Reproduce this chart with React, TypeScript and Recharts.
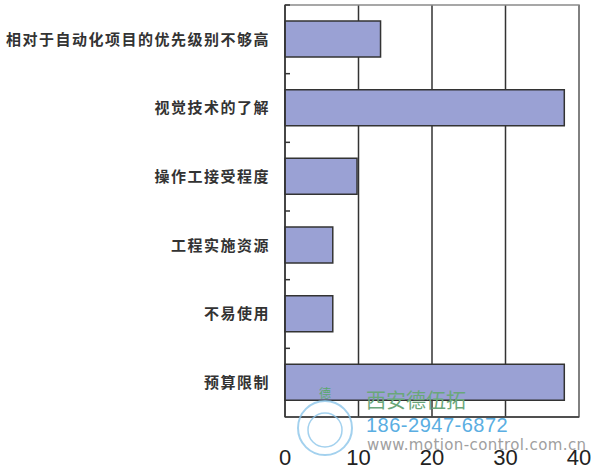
import React from 'react';
import {
  Bar,
  BarChart,
  CartesianGrid,
  ReferenceArea,
  XAxis,
  YAxis,
} from 'recharts';

const categories = [
  '相对于自动化项目的优先级别不够高',
  '视觉技术的了解',
  '操作工接受程度',
  '工程实施资源',
  '不易使用',
  '预算限制',
];
const values = [13, 38, 9.8, 6.5, 6.5, 38];
const xTicks = [0, 10, 20, 30, 40];

const data = categories.map((name, i) => ({ name, value: values[i] }));

const INK = '#333';
const BAR_FILL = '#9aa1d4';

/* 类目标签 + 类目分界处的小刻度 */
function CategoryTick({ x, y, payload }: any) {
  const top = y - (payload?.offset ?? 0);
  return (
    <g>
      <line x1={x} x2={x + 5} y1={top} y2={top} stroke={INK} strokeWidth={1.5} />
      <text
        x={x - 15}
        y={y}
        dy="0.35em"
        textAnchor="end"
        fill="#333"
        fontSize={15}
        fontWeight={700}
        letterSpacing={1.5}
        fontFamily='"Noto Sans CJK SC", sans-serif'
      >
        {payload.value}
      </text>
    </g>
  );
}

function Watermark() {
  return (
    <div style={{ position: 'absolute', left: 0, top: 0, width: 600, height: 474, pointerEvents: 'none' }}>
      <svg width={600} height={474} style={{ position: 'absolute', left: 0, top: 0 }}>
        <circle cx={325} cy={428} r={27} fill="none" stroke="#8cc6ea" strokeWidth={2} opacity={0.8} />
        <circle cx={325} cy={430} r={17} fill="none" stroke="#8cc6ea" strokeWidth={1.5} opacity={0.8} />
        <text x={325} y={398} textAnchor="middle" fontSize={12} fill="#5aa86e" fontFamily='"Noto Sans CJK SC", sans-serif'>德</text>
      </svg>
      <div style={{ position: 'absolute', left: 366, top: 387, fontSize: 20, color: '#6aa77a', fontFamily: '"Noto Sans CJK SC", sans-serif', lineHeight: '26px', letterSpacing: 0 }}>
        西安德伍拓
      </div>
      <div style={{ position: 'absolute', left: 366, top: 412, fontSize: 20, color: '#5aaee2', fontFamily: '"Liberation Sans", Arial, sans-serif', lineHeight: '26px', letterSpacing: 0.5 }}>
        186-2947-6872
      </div>
      <div style={{ position: 'absolute', left: 367, top: 436, fontSize: 15, color: '#a0a0a0', fontFamily: '"DejaVu Sans", sans-serif', lineHeight: '18px', letterSpacing: 0.4 }}>
        www.motion-control.com.cn
      </div>
    </div>
  );
}

export default function App() {
  return (
    <div style={{ position: 'absolute', left: 0, top: 0, width: 600, height: 474, background: '#fff' }}>
      <BarChart
        width={600}
        height={474}
        data={data}
        layout="vertical"
        margin={{ top: 5, right: 21, bottom: 0, left: 0 }}
      >
        <CartesianGrid horizontal={false} stroke={INK} strokeWidth={1.5} />
        <ReferenceArea x1={0} x2={40} fill="none" stroke="#8a8a8a" strokeWidth={1.5} />
        <XAxis
          type="number"
          domain={[0, 40]}
          ticks={xTicks}
          height={57}
          tickLine={false}
          tickMargin={26}
          axisLine={{ stroke: INK, strokeWidth: 1.5 }}
          tick={{ fontSize: 22, fill: '#222', fontFamily: '"Liberation Sans", Arial, sans-serif' }}
        />
        <YAxis
          type="category"
          dataKey="name"
          width={285}
          tickLine={false}
          tickSize={0}
          tickMargin={0}
          interval={0}
          axisLine={{ stroke: INK, strokeWidth: 1.5 }}
          tick={<CategoryTick />}
        />
        <Bar
          dataKey="value"
          barSize={36}
          fill={BAR_FILL}
          stroke={INK}
          strokeWidth={1.5}
          isAnimationActive={false}
        />
      </BarChart>
      <Watermark />
    </div>
  );
}
